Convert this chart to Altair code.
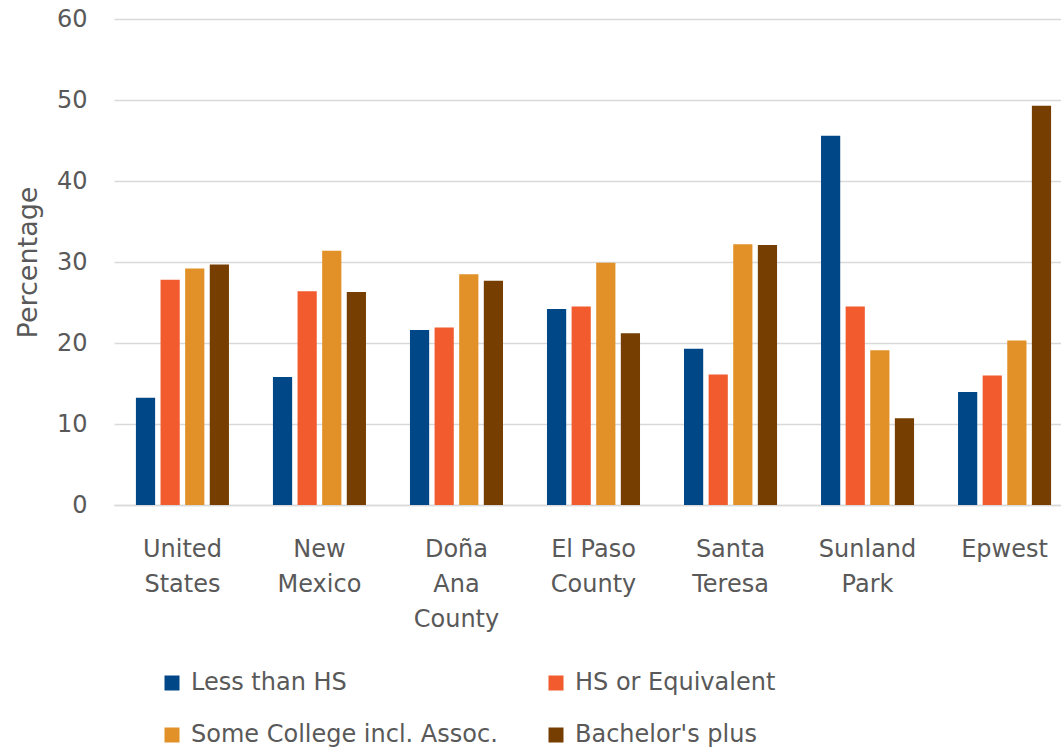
import altair as alt
import pandas as pd

places = ["United|States", "New|Mexico", "Doña|Ana|County", "El Paso|County",
          "Santa|Teresa", "Sunland|Park", "Epwest"]
series = ["Less than HS", "HS or Equivalent", "Some College incl. Assoc.", "Bachelor's plus"]
colors = ["#004788", "#F15B2E", "#E19127", "#763E00"]

less_hs = [13.25, 15.8, 21.6, 24.2, 19.3, 45.6, 13.95]
hs_equiv = [27.8, 26.4, 21.9, 24.5, 16.1, 24.5, 16.0]
some_college = [29.2, 31.4, 28.5, 29.9, 32.2, 19.1, 20.3]
bachelors = [29.7, 26.3, 27.7, 21.2, 32.1, 10.7, 49.3]

rows = []
for vals, s in zip([less_hs, hs_equiv, some_college, bachelors], series):
    for p, v in zip(places, vals):
        rows.append({"place": p, "series": s, "value": v})
df = pd.DataFrame(rows)

font = "DejaVu Sans"
grey = "#595959"

chart = alt.Chart(df).mark_bar().encode(
    x=alt.X("place:N", sort=places,
            scale=alt.Scale(range=[0, 959], paddingInner=0.321, paddingOuter=0.16),
            axis=alt.Axis(title=None, labelAngle=0, labelExpr="split(datum.label, '|')",
                          labelFontSize=24, labelFont=font, labelColor=grey,
                          labelLineHeight=35, labelPadding=32, ticks=False,
                          domainColor="#D9D9D9", domainWidth=1.5, labelBound=False,
                          labelOverlap=False, grid=False)),
    xOffset=alt.XOffset("series:N", sort=series,
                        scale=alt.Scale(paddingInner=0.22, paddingOuter=0)),
    y=alt.Y("value:Q", scale=alt.Scale(domain=[0, 60], nice=False),
            axis=alt.Axis(title="Percentage", values=[0, 10, 20, 30, 40, 50, 60],
                          labelFontSize=24, labelFont=font, labelColor=grey,
                          labelPadding=27, ticks=False, domain=False,
                          gridColor="#D9D9D9", gridWidth=1.5,
                          titleFontSize=27, titleFont=font, titleColor=grey,
                          titleFontWeight="normal", titlePadding=14)),
    color=alt.Color("series:N", sort=series,
                    scale=alt.Scale(domain=series, range=colors),
                    legend=alt.Legend(title=None, orient="none", legendX=46, legendY=652,
                                      direction="horizontal",
                                      columns=2, symbolType="square", symbolSize=225,
                                      symbolStrokeWidth=0, labelFontSize=24, labelFont=font,
                                      labelColor=grey, labelOffset=7, rowPadding=28,
                                      columnPadding=46, labelLimit=500, padding=0)),
).properties(
    width=947, height=486,
    background="white",
    autosize=alt.AutoSizeParams(type="none"),
    padding={"left": 114, "top": 19, "right": 0, "bottom": 245},
).configure_view(strokeWidth=0, stroke="transparent")

chart.save("out.html", embed_options={"renderer": "svg", "actions": False})
